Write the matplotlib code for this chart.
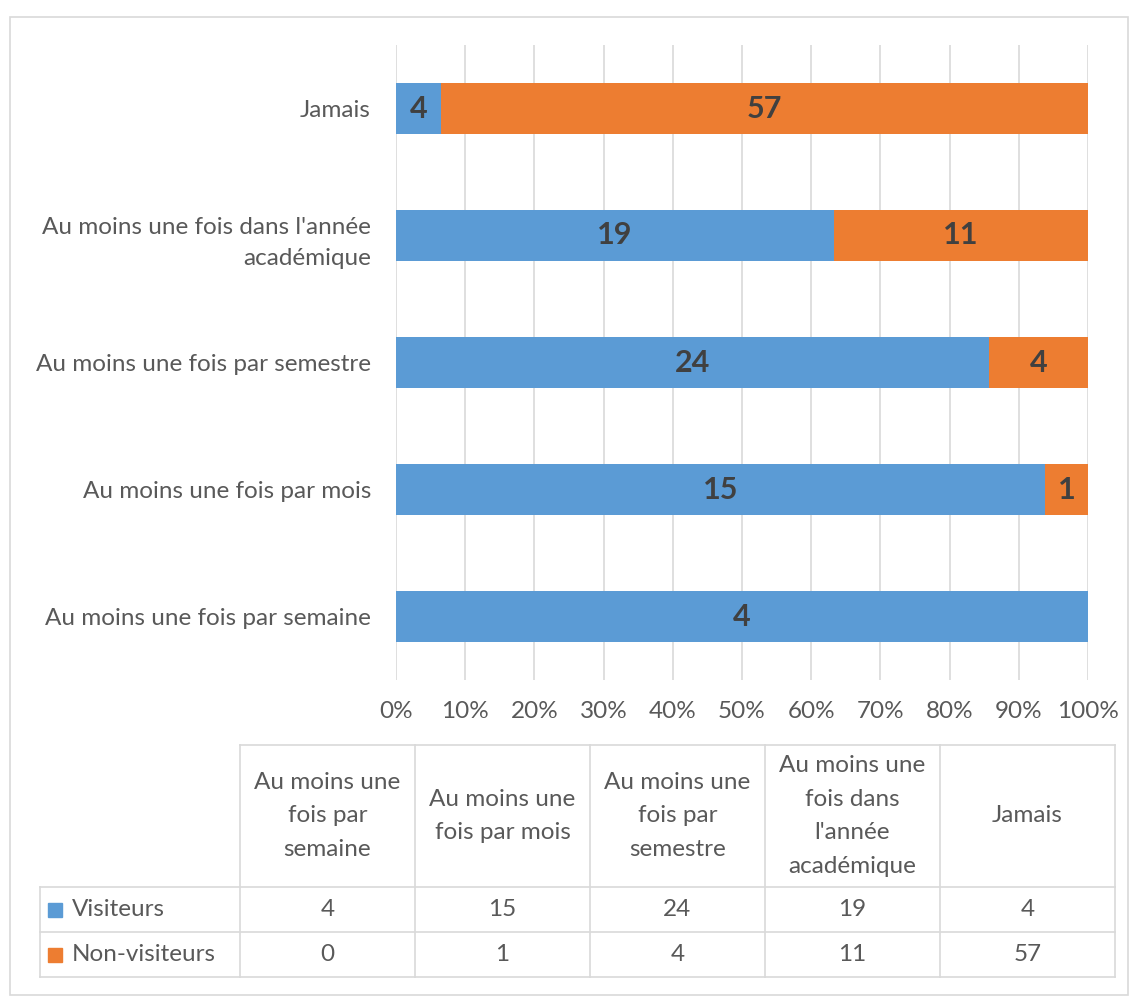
import matplotlib
matplotlib.use("Agg")
import matplotlib.pyplot as plt
import numpy as np
from matplotlib.lines import Line2D
from matplotlib.patches import Rectangle

plt.rcParams['font.family'] = ['Lato', 'DejaVu Sans']

categories = ["Au moins une fois par semaine", "Au moins une fois par mois",
              "Au moins une fois par semestre",
              "Au moins une fois dans l'année\nacadémique", "Jamais"]
table_headers = ["Au moins une\nfois par\nsemaine", "Au moins une\nfois par mois",
                 "Au moins une\nfois par\nsemestre",
                 "Au moins une\nfois dans\nl'année\nacadémique", "Jamais"]
series_names = ["Visiteurs", "Non-visiteurs"]
visiteurs = [4, 15, 24, 19, 4]
non_visiteurs = [0, 1, 4, 11, 57]

blue = "#5B9BD5"
orange = "#ED7D31"
grey_text = "#595959"
grid_col = "#D9D9D9"

W, H = 1131, 997
fig = plt.figure(figsize=(W / 100, H / 100), dpi=100)

def fx(px):
    return px / W

def fy(py):
    return 1 - py / H

# outer chart border
fig.add_artist(Rectangle((fx(10), fy(995)), fx(1128) - fx(10), fy(17) - fy(995),
                         transform=fig.transFigure, fill=False,
                         edgecolor=grid_col, linewidth=1.2))

ax = fig.add_axes([fx(396), fy(680), fx(1088) - fx(396), fy(45) - fy(680)])

vis = np.array(visiteurs, dtype=float)
non = np.array(non_visiteurs, dtype=float)
tot = vis + non
vis_pct = vis / tot
non_pct = non / tot
y = np.arange(len(categories))

ax.barh(y, vis_pct, height=0.4, color=blue, zorder=3)
ax.barh(y, non_pct, left=vis_pct, height=0.4, color=orange, zorder=3)

for i in range(len(categories)):
    if vis[i] > 0:
        ax.text(vis_pct[i] / 2, y[i], str(visiteurs[i]), ha="center", va="center",
                fontsize=22, fontweight="bold", color="#404040", zorder=4)
    if non[i] > 0:
        ax.text(vis_pct[i] + non_pct[i] / 2, y[i], str(non_visiteurs[i]), ha="center",
                va="center", fontsize=22, fontweight="bold", color="#404040", zorder=4)

ax.set_xlim(0, 1)
ax.set_ylim(-0.5, len(categories) - 0.5)
ax.set_xticks(np.linspace(0, 1, 11))
ax.set_xticklabels([f"{int(round(t * 100))}%" for t in np.linspace(0, 1, 11)])
ax.set_yticks(y)
ax.set_yticklabels(categories, linespacing=1.6)
ax.tick_params(axis="both", length=0, labelsize=17.5, colors=grey_text)
ax.tick_params(axis="x", pad=15)
ax.tick_params(axis="y", pad=18)
ax.grid(axis="x", color=grid_col, linewidth=1.2, zorder=0)
for s in ax.spines.values():
    s.set_visible(False)

# data table below the chart
col_edges = [240, 415, 590, 765, 940, 1115]
row_edges = [745, 887, 932, 977]
key_left = 40

lw = 1.2
# horizontal lines
fig.add_artist(Line2D([fx(col_edges[0]), fx(col_edges[-1])], [fy(row_edges[0])] * 2,
                      color=grid_col, lw=lw))
for r in row_edges[1:]:
    fig.add_artist(Line2D([fx(key_left), fx(col_edges[-1])], [fy(r)] * 2,
                          color=grid_col, lw=lw))
# vertical lines
for c in col_edges:
    fig.add_artist(Line2D([fx(c)] * 2, [fy(row_edges[0]), fy(row_edges[-1])],
                          color=grid_col, lw=lw))
fig.add_artist(Line2D([fx(key_left)] * 2, [fy(row_edges[1]), fy(row_edges[-1])],
                      color=grid_col, lw=lw))

for j, hdr in enumerate(table_headers):
    cx = (col_edges[j] + col_edges[j + 1]) / 2
    cy = (row_edges[0] + row_edges[1]) / 2
    fig.text(fx(cx), fy(cy), hdr, ha="center", va="center", fontsize=17.5,
             color=grey_text, linespacing=1.75)

for k, (name, vals, col) in enumerate(zip(series_names, [visiteurs, non_visiteurs],
                                          [blue, orange])):
    cy = (row_edges[k + 1] + row_edges[k + 2]) / 2
    fig.add_artist(Rectangle((fx(48), fy(cy + 7)), fx(14), fy(0) - fy(14),
                             transform=fig.transFigure, color=col))
    fig.text(fx(72), fy(cy), name, ha="left", va="center", fontsize=17.5, color=grey_text)
    for j, v in enumerate(vals):
        cx = (col_edges[j] + col_edges[j + 1]) / 2
        fig.text(fx(cx), fy(cy), str(v), ha="center", va="center", fontsize=17.5,
                 color=grey_text)

fig.savefig("out.png", dpi=100)
